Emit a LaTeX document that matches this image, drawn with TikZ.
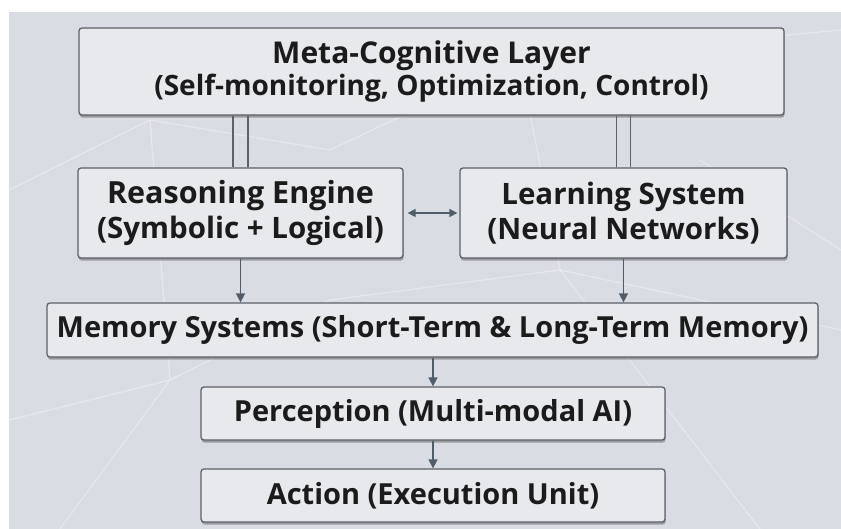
\documentclass[tikz,border=0pt]{standalone}
\usepackage{fontspec}
\usepackage{xcolor}
\newfontfamily\boxfont{Open Sans}
\usetikzlibrary{arrows.meta,shadows,calc}

\definecolor{bgblue}{HTML}{D9DDE3}
\definecolor{boxfill}{HTML}{E7E9EC}
\definecolor{boxline}{HTML}{5C6168}
\definecolor{arrowgrey}{HTML}{4E5D69}
\definecolor{inkblack}{HTML}{1B1B1B}

\tikzset{
  layer/.style={draw=boxline, line width=1.3pt, fill=boxfill, rounded corners=3pt,
    inner sep=0pt, align=center, text=inkblack,
    drop shadow={shadow xshift=0.6pt, shadow yshift=-2.6pt, opacity=0.45, fill=black!70}},
  flow/.style={arrowgrey, line width=1.6pt, -{Triangle[length=9pt,width=9pt]}},
  twoway/.style={arrowgrey, line width=1.6pt, {Triangle[length=8pt,width=8pt]}-{Triangle[length=8pt,width=8pt]}},
  pipe/.style={boxline, line width=1.5pt},
  web/.style={white, line width=1.2pt, opacity=0.35}
}

\begin{document}
\begin{tikzpicture}[x=1pt,y=-1pt]
\useasboundingbox (0,0) rectangle (841,529);
\fill[white] (0,0) rectangle (841,529);
\fill[bgblue] (9,12) rectangle (841,529);

% faint network in the back
\draw[web] (9,190) -- (150,120) -- (330,150) -- (520,60) -- (841,30);
\draw[web] (60,529) -- (170,380) -- (330,300) -- (560,270) -- (841,330);
\draw[web] (150,120) -- (170,380);
\draw[web] (520,60) -- (560,270) -- (760,529);
\draw[web] (700,160) -- (841,250);
\draw[web] (9,420) -- (170,380);

\node[layer, minimum width=705pt, minimum height=87pt,
      font=\boxfont\bfseries\fontsize{28}{32}\selectfont] (meta) at (431.5,71.5)
      {{\fontsize{30}{32}\selectfont Meta-Cognitive Layer}\\(Self-monitoring, Optimization, Control)};

\node[layer, minimum width=325pt, minimum height=90pt,
      font=\boxfont\bfseries\fontsize{29.5}{35}\selectfont] (reason) at (240.5,213)
      {{\fontsize{30.5}{35}\selectfont Reasoning Engine}\\(Symbolic + Logical)};

\node[layer, minimum width=327pt, minimum height=90pt,
      font=\boxfont\bfseries\fontsize{29.5}{35}\selectfont] (learn) at (623.5,213)
      {Learning System\\(Neural Networks)};

\node[layer, minimum width=771pt, minimum height=54pt,
      font=\boxfont\bfseries\fontsize{29}{33}\selectfont] (memory) at (432.5,330)
      {Memory Systems (Short-Term \& Long-Term Memory)};

\node[layer, minimum width=464pt, minimum height=53pt,
      font=\boxfont\bfseries\fontsize{29}{33}\selectfont] (percep) at (433,413.5)
      {Perception (Multi-modal AI)};

\node[layer, minimum width=464pt, minimum height=53pt,
      font=\boxfont\bfseries\fontsize{29}{33}\selectfont] (action) at (433,495.5)
      {Action (Execution Unit)};

% control links from the meta layer
\foreach \d in {-7.5,7.5}
  \draw[pipe] ([xshift=\d pt]reason.north) -- ([xshift=\d pt]reason.north |- meta.south);
\foreach \d in {-7,7}
  \draw[pipe] ([xshift=\d pt]learn.north) -- ([xshift=\d pt]learn.north |- meta.south);

\draw[twoway] ([xshift=4pt]reason.east) -- ([xshift=-2pt]learn.west);

\draw[flow] (reason.south) -- (reason.south |- memory.north);
\draw[flow] (learn.south) -- (learn.south |- memory.north);
\draw[flow] (percep.north |- memory.south) -- (percep.north);
\draw[flow] (percep.south) -- (action.north);

\end{tikzpicture}
\end{document}
